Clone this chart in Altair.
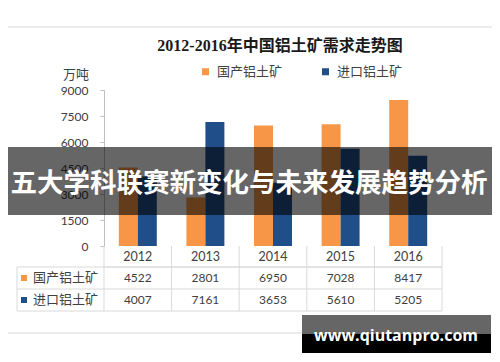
import altair as alt
import pandas as pd

years = ["2012", "2013", "2014", "2015", "2016"]
domestic = [4522, 2801, 6950, 7028, 8417]
imported = [4007, 7161, 3653, 5610, 5205]
series = ["国产铝土矿", "进口铝土矿"]
colors = ["#F79646", "#1F4E89"]
y_ticks = [0, 1500, 3000, 4500, 6000, 7500, 9000]
title_text = "2012-2016年中国铝土矿需求走势图"
unit_text = "万吨"
banner_text = "五大学科联赛新变化与未来发展趋势分析"
site_text = "www.qiutanpro.com"

rows = []
for yr, d, i in zip(years, domestic, imported):
    rows.append({"year": yr, "series": series[0], "value": d})
    rows.append({"year": yr, "series": series[1], "value": i})
df = pd.DataFrame(rows)
one = pd.DataFrame({"a": [0]})

TXT = "#404040"
GRID = "#d9d9d9"
NUMFONT = "Lato"
CJK = "Noto Sans CJK SC"

xscale = alt.Scale(domain=years, paddingInner=0, paddingOuter=0)
cscale = alt.Scale(domain=series, range=colors)

bars = alt.Chart(df).mark_bar().encode(
    x=alt.X("year:N", scale=xscale, sort=years,
            axis=alt.Axis(title=None, labels=False, ticks=False, domainColor=GRID)),
    xOffset=alt.XOffset("series:N", sort=series,
                        scale=alt.Scale(domain=series, paddingInner=0, paddingOuter=0.78)),
    y=alt.Y("value:Q", scale=alt.Scale(domain=[0, 9000], nice=False),
            axis=alt.Axis(values=y_ticks, format="d", title=None, grid=False, domainColor="#bfbfbf",
                          tickColor="#bfbfbf", tickSize=4, labelPadding=12,
                          labelFontSize=12, labelFont=NUMFONT, labelColor=TXT)),
    color=alt.Color("series:N", scale=cscale, sort=series,
                    legend=alt.Legend(title=None, orient="none", legendX=95, legendY=-25,
                                      direction="horizontal", symbolType="square",
                                      symbolSize=49, symbolStrokeWidth=0, labelFontSize=13,
                                      labelFont=CJK, labelColor=TXT, labelOffset=5,
                                      columnPadding=36, padding=0)),
)

# table grid
vlines = alt.Chart(pd.DataFrame({"year": years})).mark_rule(color=GRID).encode(
    x=alt.X("year:N", bandPosition=0, scale=xscale, axis=None),
    y=alt.value(156), y2=alt.value(221))
year_labels = alt.Chart(pd.DataFrame({"year": years})).mark_text(
    fontSize=12.5, font=NUMFONT, color=TXT).encode(
    x=alt.X("year:N", scale=xscale, axis=None), y=alt.value(167), text="year:N")
rules = []
for (x1, x2, y1, y2) in [(0, 338, 177, 177), (-87, 338, 199, 199), (-87, 338, 221, 221),
                         (-87, 338, 177, 177), (338, 338, 156, 221), (-87, -87, 177, 221),
                         (-104, 396, -63, -63), (-104, 396, 243, 243)]:
    rules.append(alt.Chart(one).mark_rule(color=GRID).encode(
        x=alt.value(x1), x2=alt.value(x2), y=alt.value(y1), y2=alt.value(y2)))

table = []
for s, c, yv in zip(series, colors, [188, 210]):
    table.append(alt.Chart(df).transform_filter(alt.datum.series == s).mark_text(
        fontSize=12, font=NUMFONT, color=TXT).encode(
        x=alt.X("year:N", scale=xscale, axis=None), y=alt.value(yv), text="value:Q"))
    table.append(alt.Chart(pd.DataFrame({"series": [s]})).mark_text(
        align="left", fontSize=13, font=CJK, color=TXT).encode(
        x=alt.value(-71), y=alt.value(yv), text="series:N"))
    table.append(alt.Chart(one).mark_square(size=36, opacity=1, color=c).encode(
        x=alt.value(-80), y=alt.value(yv)))

title = alt.Chart(pd.DataFrame({"t": [title_text]})).mark_text(
    fontSize=16, fontWeight="bold", font="'Liberation Serif', 'Noto Sans CJK SC'",
    color="#1a1a1a").encode(x=alt.value(176), y=alt.value(-44), text="t:N")
unit = alt.Chart(pd.DataFrame({"t": [unit_text]})).mark_text(
    fontSize=13, font=CJK, color=TXT).encode(x=alt.value(-28), y=alt.value(-15), text="t:N")

banner_bg = alt.Chart(one).mark_rect(color="black", opacity=0.6).encode(
    x=alt.value(-97), x2=alt.value(389), y=alt.value(57), y2=alt.value(125))
banner = alt.Chart(pd.DataFrame({"t": [banner_text]})).mark_text(
    fontSize=26.5, fontWeight="bold", font=CJK, color="white").encode(
    x=alt.value(145), y=alt.value(94), text="t:N")

site_bg1 = alt.Chart(one).mark_rect(color="black", opacity=1).encode(
    x=alt.value(198), x2=alt.value(387), y=alt.value(225), y2=alt.value(263))
site_bg2 = alt.Chart(one).mark_rect(color="#666666", opacity=1).encode(
    x=alt.value(198), x2=alt.value(387), y=alt.value(225), y2=alt.value(244))
site = alt.Chart(pd.DataFrame({"t": [site_text]})).mark_text(
    fontSize=16, fontWeight="bold", font="Open Sans", color="white").encode(
    x=alt.value(292), y=alt.value(246), text="t:N")

chart = alt.layer(
    bars, *rules, vlines, year_labels, *table, title, unit, banner_bg, banner,
    site_bg1, site_bg2, site
).properties(
    width=338, height=156,
    padding={"left": 96, "top": 82, "right": 50, "bottom": 108},
    autosize=alt.AutoSizeParams(type="none"),
    background="white",
).configure_view(stroke=None)

chart.save("out.html", embed_options={"renderer": "svg", "actions": False})
